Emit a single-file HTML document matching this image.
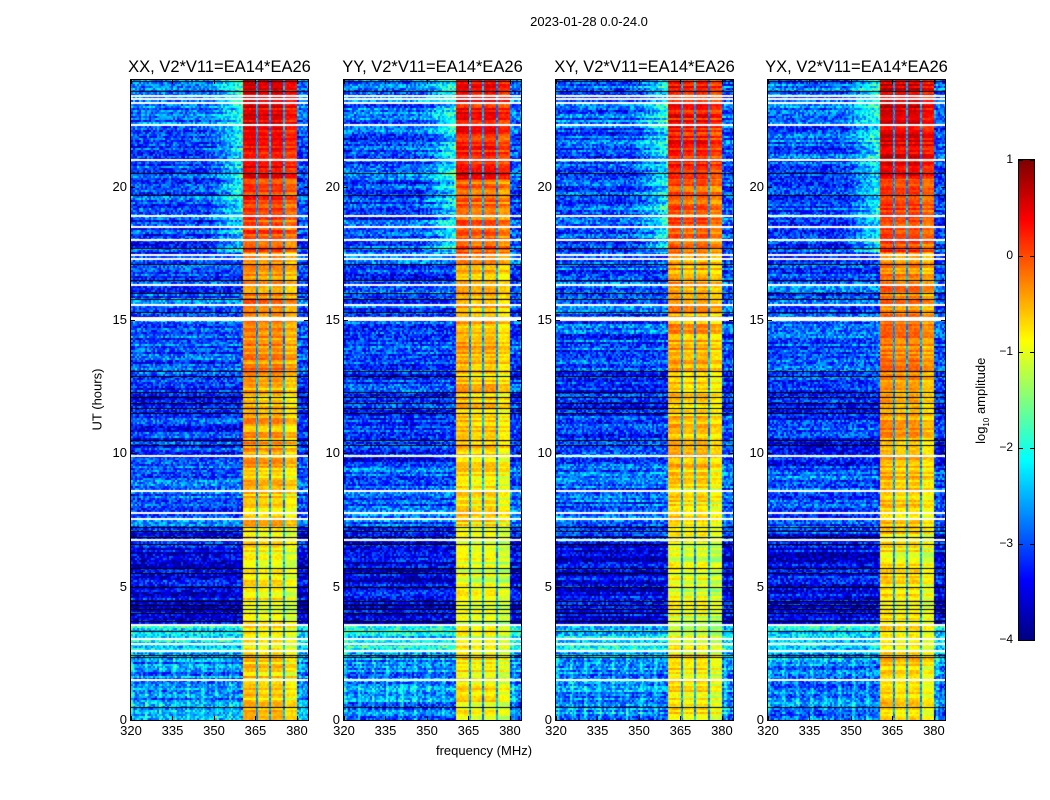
<!DOCTYPE html>
<html><head><meta charset="utf-8">
<style>
body{margin:0;background:#fff;font-family:"Liberation Sans","DejaVu Sans",sans-serif;}
#wrap{position:relative;width:1050px;height:800px;overflow:hidden;background:#fff;}
.t{position:absolute;color:#000;white-space:nowrap;}
canvas{position:absolute;}
.frame{position:absolute;border:1px solid #000;box-sizing:border-box;}
</style></head>
<body>
<div id="wrap">
<div class="t" style="left:489px;top:14px;width:200px;text-align:center;font-size:13px;">2023-01-28 0.0-24.0</div>
<div class="t" style="left:384px;top:743px;width:200px;text-align:center;font-size:13px;">frequency (MHz)</div>
<div class="t" style="left:47px;top:392px;width:100px;text-align:center;font-size:13px;transform:rotate(-90deg);">UT (hours)</div>
<canvas id="cbar" width="15" height="480" style="left:1019px;top:160px;"></canvas>
<div class="frame" style="left:1018px;top:159px;width:17px;height:482px;"></div>
<div class="t" style="left:922px;top:392px;width:120px;text-align:center;font-size:13px;transform:rotate(-90deg);">log<sub style="font-size:8px">10</sub> amplitude</div>
</div>
<script>
// ---- data ----
const panelTitles = ["XX, V2*V11=EA14*EA26","YY, V2*V11=EA14*EA26","XY, V2*V11=EA14*EA26","YX, V2*V11=EA14*EA26"];
const panelOffset = [0, -0.15, -0.15, 0.05];
const xTicks = [320,335,350,365,380];
const yTicks = [0,5,10,15,20];
const cbTicks = [1,0,-1,-2,-3,-4];
const subbandEdges = [360.5,365.5,370.3,375.3,380];
const subbandBoost = [0.15, 0.05, 0.1, -0.1];
// time segments: [startHr, endHr, bandLevel, backgroundLevel]
const segStart = [0, 2.5, 3.6, 6.5, 7.0, 9.5, 13.0, 17.5, 20.3, 22.3];
const segEnd   = [2.5, 3.6, 6.5, 7.0, 9.5, 13.0, 17.5, 20.3, 22.3, 24.0];
const segBand  = [-0.75, -0.9, -0.95, -0.85, -0.7, -0.55, -0.4, -0.05, 0.3, 0.35];
const segBg    = [-2.75, -2.2, -3.5, -3.3, -2.95, -3.15, -3.0, -3.05, -3.0, -2.9];
const whiteRows = [1.5,2.6,2.85,3.05,3.55,6.75,7.55,7.75,8.6,9.9,15.0,15.08,15.55,16.3,17.3,17.42,18.0,18.5,18.9,21.0,22.3,23.15,23.3,23.4];
const blackRows = [0.5,2.35,2.45,3.35,3.7,4.0,4.15,4.3,4.45,5.0,5.5,5.7,6.6,6.85,7.1,7.25,10.3,10.5,11.5,11.7,11.9,12.1,12.3,12.9,13.1,15.3,15.8,16.0,16.5,17.1,17.7,19.7,20.5,23.6,23.95];
// ---- layout ----
const panelX=[131,344,556,768], PY=80, PW=177, PH=640, FMIN=320, FMAX=384, TMAX=24;
const wrap=document.getElementById('wrap');
function fx(f){return (f-FMIN)/(FMAX-FMIN)*PW;}
function ty(t){return PH-(t/TMAX)*PH;}
function jet(v){let t=(v+4)/5;t=Math.max(0,Math.min(1,t));
 const c=x=>Math.max(0,Math.min(1,1.5-Math.abs(x)));
 return [c(4*t-3)*255,c(4*t-2)*255,c(4*t-1)*255];}
function h(a,b,s){let n=(a*374761393+b*668265263+s*2147483647)|0;n=(n^(n>>>13))*1274126177|0;return ((n^(n>>>16))>>>0)/4294967295;}
function segAt(t){for(let i=0;i<segStart.length;i++){if(t>=segStart[i]&&t<segEnd[i])return i;}return segStart.length-1;}
function mk(tag,css,name){const e=document.createElement(tag);e.style.cssText=css;
 
 
 wrap.appendChild(e);return e;}
panelTitles.forEach((title,p)=>{
 const L=panelX[p];
 const cv=document.createElement('canvas');cv.width=PW;cv.height=PH;cv.style.left=L+'px';cv.style.top=PY+'px';
 
 
 wrap.appendChild(cv);
 const ctx=cv.getContext('2d');const img=ctx.createImageData(PW,PH);
 const rowNoise=[];for(let y=0;y<PH;y++){rowNoise.push(h(Math.floor(y/2),7,p+1));}
 for(let y=0;y<PH;y++){
  const t=(PH-y-0.5)/PH*TMAX;const s=segAt(t);
  const rn=rowNoise[y]-0.5;
  for(let x=0;x<PW;x++){
   const f=FMIN+(x+0.5)/PW*(FMAX-FMIN);let v;
   const n=h(Math.floor(x/2),Math.floor(y/2),p+11)-0.5;
   if(f>=subbandEdges[0]&&f<subbandEdges[subbandEdges.length-1]){
     let edge=false,sb=0;
     for(let k=1;k<subbandEdges.length-1;k++){if(Math.abs(f-subbandEdges[k])<0.35)edge=true;if(f>=subbandEdges[k])sb=k;}
     v=segBand[s]+panelOffset[p]+subbandBoost[sb]+rn*0.6+n*0.25;
     if(edge)v=-2.6+n*0.8;
   } else {
     v=segBg[s]+rn*0.8+n*1.1;
     if(t>17.5&&f>348&&f<360.5)v+=(f-348)/12*0.9;
     if(t<2.5&&((x%14)<3))v+=0.4;
   }
   const c=jet(v);const i=(y*PW+x)*4;img.data[i]=c[0];img.data[i+1]=c[1];img.data[i+2]=c[2];img.data[i+3]=255;
  }
 }
 ctx.putImageData(img,0,0);
 whiteRows.forEach(t=>{ctx.fillStyle='#fff';ctx.fillRect(0,Math.round(ty(t))-1,PW,2);});
 blackRows.forEach(t=>{ctx.fillStyle='#000';ctx.fillRect(0,Math.round(ty(t)),PW,1);});
 mk('div',`left:${L-1}px;top:${PY-1}px;width:${PW+2}px;height:${PH+2}px;`,'panel-frame-'+(p+1)).className='frame';
 const tt=mk('div',`left:${L-40}px;top:58px;width:${PW+80}px;text-align:center;font-size:16.5px;`,'panel-title-'+(p+1));tt.className='t';tt.textContent=title;
 xTicks.forEach(v=>{const X=L+fx(v);
  mk('div',`position:absolute;left:${X}px;top:${PY+PH-4}px;width:1px;height:4px;background:#000;`,'x-tick');
  mk('div',`position:absolute;left:${X}px;top:${PY}px;width:1px;height:4px;background:#000;`,'x-tick-top');
  const lb=mk('div',`left:${X-20}px;top:${PY+PH+3}px;width:40px;text-align:center;font-size:13px;`,'x-tick-label');lb.className='t';lb.textContent=v;});
 yTicks.forEach(v=>{const Y=PY+ty(v);
  mk('div',`position:absolute;left:${L}px;top:${Y}px;width:4px;height:1px;background:#000;`,'y-tick');
  mk('div',`position:absolute;left:${L+PW-4}px;top:${Y}px;width:4px;height:1px;background:#000;`,'y-tick-right');
  const lb=mk('div',`left:${L-44}px;top:${Y-8}px;width:40px;text-align:right;font-size:13px;`,'y-tick-label');lb.className='t';lb.textContent=v;});
});
// colorbar
const cb=document.getElementById('cbar').getContext('2d');
for(let y=0;y<480;y++){const c=jet(1-y/480*5);cb.fillStyle=`rgb(${c[0]|0},${c[1]|0},${c[2]|0})`;cb.fillRect(0,y,15,1);}
cbTicks.forEach(v=>{const Y=160+(1-v)/5*480;
 mk('div',`position:absolute;left:1019px;top:${Y}px;width:4px;height:1px;background:#000;`,'colorbar-tick');
 mk('div',`position:absolute;left:1030px;top:${Y}px;width:4px;height:1px;background:#000;`,'colorbar-tick-right');
 const lb=mk('div',`left:973px;top:${Y-8}px;width:40px;text-align:right;font-size:12px;`,'colorbar-tick-label');lb.className='t';lb.textContent=String(v).replace('-','\u2212');});
</script>
</body></html>
